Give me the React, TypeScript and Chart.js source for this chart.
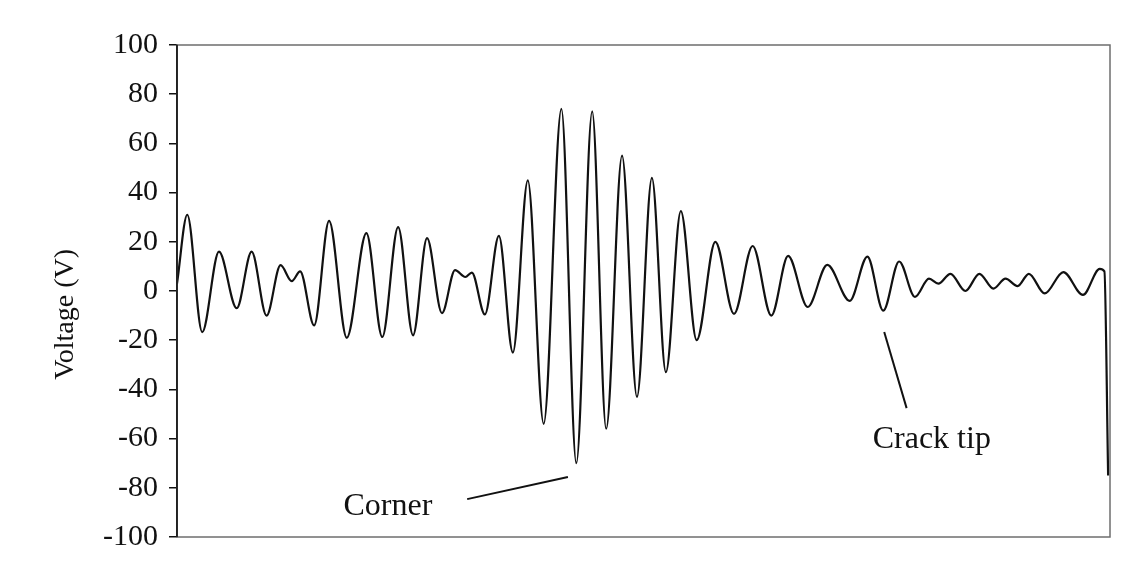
import React, { useEffect, useRef } from "react";
import { Chart, registerables } from "chart.js";

Chart.register(...registerables);

// time (arbitrary units, 0-100) and voltage (V)
const times: number[] = [
  0, 1.1, 2.7, 4.5, 6.4, 8.0, 9.6, 11.1, 12.3, 13.2, 14.7, 16.3, 18.2, 20.3,
  22.0, 23.7, 25.3, 26.8, 28.4, 29.8, 30.9, 31.6, 33.0, 34.5, 36.0, 37.6,
  39.3, 41.2, 42.8, 44.5, 46.0, 47.7, 49.3, 50.9, 52.4, 54.0, 55.7, 57.7,
  59.7, 61.7, 63.7, 65.5, 67.6, 69.7, 72.1, 74.0, 75.7, 77.4, 79.1, 80.6,
  81.6, 82.9, 84.5, 86.0, 87.5, 88.8, 90.1, 91.3, 93.0, 95.0, 97.1, 98.9,
  99.4, 99.8,
];
const voltages: number[] = [
  3, 31, -16.7, 16, -7, 16, -10, 10.5, 4, 8, -14, 28.5, -19, 23.5,
  -18.7, 26, -18, 21.5, -9, 8.5, 5.7, 7.5, -9.5, 22.4, -25, 45,
  -54, 74, -70, 73, -56, 55, -43, 46, -33, 32.5, -20, 20,
  -9.3, 18.3, -10, 14.3, -6.5, 10.6, -4, 14, -8, 12, -2.4, 5,
  3, 7, 0, 7, 1, 5, 2, 7, -1, 7.7, -1.6, 9,
  8, -75,
];

const yTicks: number[] = [100, 80, 60, 40, 20, 0, -20, -40, -60, -80, -100];
const yTitle = "Voltage (V)";
const yTitleCenterV = -9.5;

// annotations: label, text anchor (t, V), leader line from/to (t, V)
const annotationLabels: string[] = ["Corner", "Crack tip"];
const annotationTextT: number[] = [22.6, 80.9];
const annotationTextV: number[] = [-87.8, -60.6];
const leaderFromT: number[] = [31.1, 75.8];
const leaderFromV: number[] = [-84.6, -16.7];
const leaderToT: number[] = [41.9, 78.2];
const leaderToV: number[] = [-75.6, -47.6];

const FONT = "'Liberation Serif', 'Times New Roman', serif";

export default function App() {
  const ref = useRef<HTMLCanvasElement | null>(null);

  useEffect(() => {
    if (!ref.current) return;
    const points = times.map((t, i) => ({ x: t, y: voltages[i] }));

    const framePlugin = {
      id: "frameAndNotes",
      afterDatasetsDraw(chart: any) {
        const { ctx, chartArea, scales } = chart;
        const xs = scales.x;
        const ys = scales.y;
        ctx.save();
        ctx.strokeStyle = "#6e6e6e";
        ctx.lineWidth = 1.5;
        ctx.strokeRect(chartArea.left, chartArea.top, chartArea.right - chartArea.left, chartArea.bottom - chartArea.top);
        ctx.strokeStyle = "#111";
        ctx.beginPath();
        ctx.moveTo(chartArea.left, chartArea.top);
        ctx.lineTo(chartArea.left, chartArea.bottom);
        ctx.stroke();
        // leader lines
        ctx.lineWidth = 2;
        ctx.strokeStyle = "#111";
        for (let i = 0; i < annotationLabels.length; i++) {
          ctx.beginPath();
          ctx.moveTo(xs.getPixelForValue(leaderFromT[i]), ys.getPixelForValue(leaderFromV[i]));
          ctx.lineTo(xs.getPixelForValue(leaderToT[i]), ys.getPixelForValue(leaderToV[i]));
          ctx.stroke();
        }
        ctx.fillStyle = "#111";
        ctx.font = `32px ${FONT}`;
        ctx.textAlign = "center";
        ctx.textBaseline = "middle";
        for (let i = 0; i < annotationLabels.length; i++) {
          ctx.fillText(
            annotationLabels[i],
            xs.getPixelForValue(annotationTextT[i]),
            ys.getPixelForValue(annotationTextV[i])
          );
        }
        // y axis title
        ctx.save();
        ctx.translate(66, ys.getPixelForValue(yTitleCenterV));
        ctx.rotate(-Math.PI / 2);
        ctx.font = `28px ${FONT}`;
        ctx.fillText(yTitle, 0, 0);
        ctx.restore();
        ctx.restore();
      },
    };

    const chart = new Chart(ref.current, {
      type: "line",
      data: {
        datasets: [
          {
            data: points,
            borderColor: "#111",
            borderWidth: 2.2,
            pointRadius: 0,
            cubicInterpolationMode: "monotone",
            fill: false,
          },
        ],
      },
      options: {
        animation: false,
        responsive: true,
        maintainAspectRatio: false,
        parsing: false as any,
        layout: { padding: { left: 0, top: 45, right: 38, bottom: 32 } },
        plugins: { legend: { display: false }, tooltip: { enabled: false } },
        scales: {
          x: {
            type: "linear",
            min: 0,
            max: 100,
            display: false,
          },
          y: {
            type: "linear",
            min: -100,
            max: 100,
            afterFit: (scale: any) => {
              scale.width = 177;
            },
            afterBuildTicks: (scale: any) => {
              scale.ticks = yTicks.map((v) => ({ value: v }));
            },
            ticks: {
              color: "#111",
              font: { family: FONT, size: 30 },
              padding: 11,
              callback: (v: any) => String(v),
            },
            grid: {
              drawOnChartArea: false,
              drawTicks: true,
              tickLength: 8,
              tickColor: "#111",
              lineWidth: 1.5,
            },
            border: { display: true, color: "#111", width: 1.5 },
            title: { display: false },
          },
        },
      },
      plugins: [framePlugin],
    });
    return () => chart.destroy();
  }, []);

  return (
    <div style={{ position: "fixed", left: 0, top: 0, width: 1148, height: 569, background: "#fff" }}>
      <canvas ref={ref} />
    </div>
  );
}
